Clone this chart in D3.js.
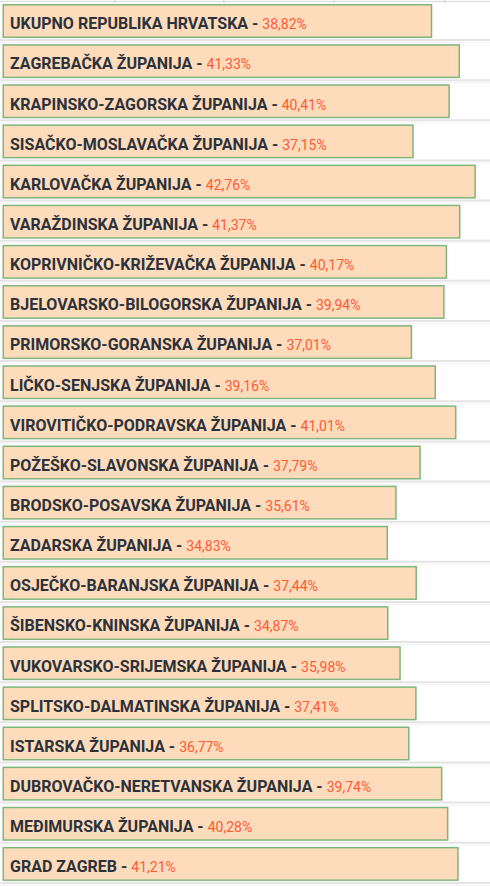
<!DOCTYPE html>
<html>
<head>
<meta charset="utf-8">
<script src="https://cdn.jsdelivr.net/npm/d3@7"></script>
<style>
  html, body { margin: 0; padding: 0; background: #fff; }
  svg { display: block; }
</style>
</head>
<body>
<svg id="chart" width="490" height="886"></svg>
<script>
const categories = [
  "UKUPNO REPUBLIKA HRVATSKA",
  "ZAGREBAČKA ŽUPANIJA",
  "KRAPINSKO-ZAGORSKA ŽUPANIJA",
  "SISAČKO-MOSLAVAČKA ŽUPANIJA",
  "KARLOVAČKA ŽUPANIJA",
  "VARAŽDINSKA ŽUPANIJA",
  "KOPRIVNIČKO-KRIŽEVAČKA ŽUPANIJA",
  "BJELOVARSKO-BILOGORSKA ŽUPANIJA",
  "PRIMORSKO-GORANSKA ŽUPANIJA",
  "LIČKO-SENJSKA ŽUPANIJA",
  "VIROVITIČKO-PODRAVSKA ŽUPANIJA",
  "POŽEŠKO-SLAVONSKA ŽUPANIJA",
  "BRODSKO-POSAVSKA ŽUPANIJA",
  "ZADARSKA ŽUPANIJA",
  "OSJEČKO-BARANJSKA ŽUPANIJA",
  "ŠIBENSKO-KNINSKA ŽUPANIJA",
  "VUKOVARSKO-SRIJEMSKA ŽUPANIJA",
  "SPLITSKO-DALMATINSKA ŽUPANIJA",
  "ISTARSKA ŽUPANIJA",
  "DUBROVAČKO-NERETVANSKA ŽUPANIJA",
  "MEĐIMURSKA ŽUPANIJA",
  "GRAD ZAGREB"
];
const values = [
  38.82, 41.33, 40.41, 37.15, 42.76, 41.37, 40.17, 39.94, 37.01, 39.16, 41.01,
  37.79, 35.61, 34.83, 37.44, 34.87, 35.98, 37.41, 36.77, 39.74, 40.28, 41.21
];
const headerDividers = [115, 224, 334, 445];

const data = categories.map((c, i) => ({ name: c, value: values[i] }));
const svg = d3.select("#chart");
const W = 490;

const x = d3.scaleLinear().domain([0, 100]).range([2.5, 2.5 + 1107]);
const y = d3.scaleBand().domain(categories).range([4, 880.9]).paddingInner(0.153).paddingOuter(0).align(0);
const bw = y.bandwidth();

const fmt = v => d3.format(".2f")(v).replace(".", ",") + "%";

// header strip remnant
svg.append("line").attr("x1", 0).attr("x2", W).attr("y1", 1.5).attr("y2", 1.5)
  .attr("stroke", "#e2e2e2").attr("stroke-width", 1.5);
svg.selectAll("line.hdiv").data(headerDividers).enter().append("line")
  .attr("class", "hdiv")
  .attr("x1", d => d).attr("x2", d => d).attr("y1", 0).attr("y2", 3)
  .attr("stroke", "#cfcfcf").attr("stroke-width", 1);

// row separators
const rows = svg.selectAll("g.row").data(data).enter().append("g").attr("class", "row");
rows.append("line")
  .attr("x1", 0).attr("x2", W)
  .attr("y1", d => y(d.name) + bw + 2).attr("y2", d => y(d.name) + bw + 2)
  .attr("stroke", "#e4e4e4").attr("stroke-width", 2);
rows.append("line")
  .attr("x1", 0).attr("x2", W)
  .attr("y1", d => y(d.name) + bw + 4.5).attr("y2", d => y(d.name) + bw + 4.5)
  .attr("stroke", "#f3f3f3").attr("stroke-width", 1);

// bars
rows.append("rect")
  .attr("x", x(0) + 0.75)
  .attr("y", d => y(d.name) + 0.75)
  .attr("width", d => x(d.value) - x(0) - 1.5)
  .attr("height", bw - 1.5)
  .attr("fill", "#fedcbb")
  .attr("stroke", "#7db57c")
  .attr("stroke-width", 1.5);

// labels
const t = rows.append("text")
  .attr("x", 10)
  .attr("y", d => y(d.name) + 25.3)
  .attr("font-family", "Roboto, 'Noto Sans', sans-serif");
t.append("tspan")
  .attr("font-size", 16).attr("font-weight", 700).attr("fill", "#2b323c")
  .text(d => d.name + " - ");
t.append("tspan")
  .attr("font-size", 14).attr("font-weight", 400).attr("fill", "#ff5a36")
  .text(d => fmt(d.value));
</script>
</body>
</html>
